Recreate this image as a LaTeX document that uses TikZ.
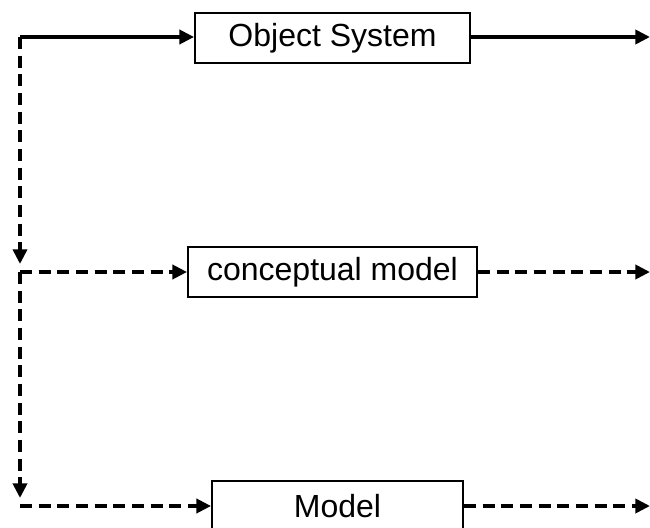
\documentclass[tikz,border=0pt]{standalone}
\usepackage{fontspec}
\setmainfont{Liberation Sans}
\usetikzlibrary{arrows.meta}
\begin{document}
\begin{tikzpicture}[x=0.75pt,y=-0.75pt,
  box/.style={draw,line width=1.4pt,inner sep=0pt,font=\fontsize{24}{28}\selectfont,minimum height=37.5pt},
  link/.style={line width=3pt,-{Triangle[length=11pt,width=10.5pt]}},
  dlink/.style={link,dash pattern=on 9pt off 5pt}]
\useasboundingbox (0,0) rectangle (650,528);
\node[box,minimum width=206.25pt] (obj) at (332.5,38) {Object System};
\node[box,minimum width=216.75pt] (con) at (332.5,272) {conceptual model};
\node[box,minimum width=188.25pt] (mod) at (337.5,506) {Model};
\coordinate (c1) at (20,37);
\coordinate (a1) at (20,264);
\coordinate (c2) at (20,272);
\coordinate (a2) at (20,498);
\coordinate (c3) at (20,506);
\coordinate (r1) at (650,37);
\coordinate (r2) at (650,272);
\coordinate (r3) at (650,506);
\draw[link] (c1) -- (c1 -| obj.west);
\draw[dlink] (c1) -- (a1);
\draw[dlink] (c2) -- (c2 -| con.west);
\draw[dlink] (c2) -- (a2);
\draw[dlink] (c3) -- (c3 -| mod.west);
\draw[link] (obj.east |- r1) -- (r1);
\draw[dlink] (con.east) -- (r2);
\draw[dlink] (mod.east) -- (r3);
\end{tikzpicture}
\end{document}
